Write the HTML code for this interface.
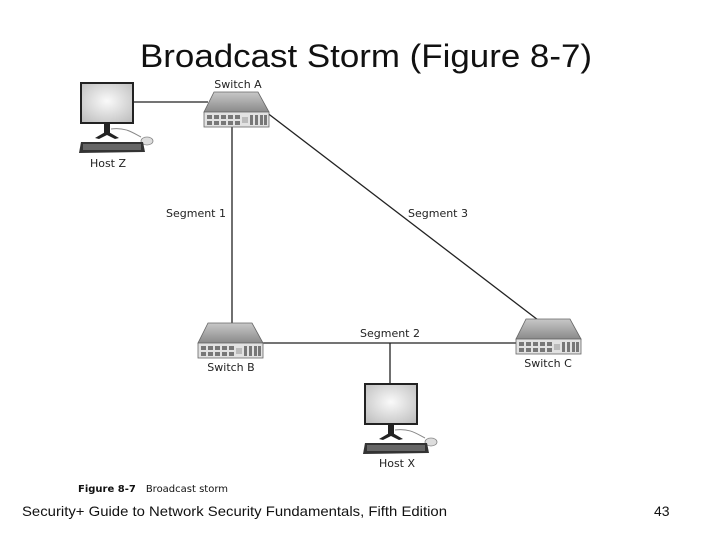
<!DOCTYPE html>
<html><head><style>
html,body{margin:0;padding:0;background:#fff;}
svg{display:block;}
</style></head><body>
<svg width="720" height="540" viewBox="0 0 720 540" xmlns="http://www.w3.org/2000/svg">
<defs>
<linearGradient id="sw" x1="0" y1="0" x2="0" y2="1"><stop offset="0" stop-color="#c8c8c8"/><stop offset="1" stop-color="#8a8a8a"/></linearGradient>
<radialGradient id="scr" cx="0.5" cy="0.45" r="0.7"><stop offset="0" stop-color="#fafafa"/><stop offset="1" stop-color="#bdbdbd"/></radialGradient>
<g id="switch">
<polygon points="10,0 54,0 65,20 0,20" fill="url(#sw)" stroke="#666" stroke-width="0.8"/>
<rect x="0" y="20" width="65" height="15" fill="#e2e2e2" stroke="#666" stroke-width="0.8"/>
<g fill="#777">
<rect x="3" y="23" width="5" height="4"/><rect x="3" y="29" width="5" height="4"/>
<rect x="10" y="23" width="5" height="4"/><rect x="10" y="29" width="5" height="4"/>
<rect x="17" y="23" width="5" height="4"/><rect x="17" y="29" width="5" height="4"/>
<rect x="24" y="23" width="5" height="4"/><rect x="24" y="29" width="5" height="4"/>
<rect x="31" y="23" width="5" height="4"/><rect x="31" y="29" width="5" height="4"/>
<rect x="46" y="23" width="3" height="10"/><rect x="51" y="23" width="3" height="10"/><rect x="56" y="23" width="3" height="10"/><rect x="60" y="23" width="3" height="10"/>
</g>
<rect x="38" y="25" width="6" height="6" fill="#bbb"/>
</g>
<g id="host">
<rect x="0" y="0" width="52" height="40" fill="url(#scr)" stroke="#222" stroke-width="2"/>
<rect x="23" y="41" width="6" height="9" fill="#222"/>
<polygon points="14,55 26,48 38,55 34,56 26,52 18,56" fill="#222"/>
<path d="M30,46 C45,44 52,50 60,54" stroke="#888" fill="none" stroke-width="1"/>
<ellipse cx="66" cy="58" rx="6" ry="4" fill="#ddd" stroke="#888" stroke-width="0.8"/>
<polygon points="0,59 62,59 64,69 -2,70" fill="#333"/>
<rect x="2" y="61" width="58" height="6" fill="#666"/>
</g>
</defs>

<text x="140" y="67" font-family="Liberation Sans, sans-serif" font-size="32" textLength="452" lengthAdjust="spacingAndGlyphs" fill="#111">Broadcast Storm (Figure 8-7)</text>

<g stroke="#222" stroke-width="1.3" fill="none">
<line x1="133" y1="102" x2="208" y2="102"/>
<line x1="232" y1="127" x2="232" y2="323"/>
<line x1="266" y1="112" x2="538" y2="320"/>
<line x1="263" y1="343" x2="517" y2="343"/>
<line x1="390" y1="343" x2="390" y2="384"/>
</g>

<use href="#switch" transform="translate(204,92)"/>
<use href="#switch" transform="translate(198,323)"/>
<use href="#switch" transform="translate(516,319)"/>
<use href="#host" transform="translate(81,83)"/>
<use href="#host" transform="translate(365,384)"/>

<g font-family="DejaVu Sans, Liberation Sans, sans-serif" font-size="11" fill="#222" text-anchor="middle">
<text x="238" y="88">Switch A</text>
<text x="108" y="167">Host Z</text>
<text x="196" y="217">Segment 1</text>
<text x="438" y="217">Segment 3</text>
<text x="390" y="337">Segment 2</text>
<text x="231" y="371">Switch B</text>
<text x="548" y="367">Switch C</text>
<text x="397" y="467">Host X</text>
</g>
<text x="78" y="492" font-family="DejaVu Sans, sans-serif" font-size="10" fill="#111"><tspan font-weight="bold">Figure 8-7</tspan><tspan dx="10">Broadcast storm</tspan></text>

<text x="22" y="516" font-family="Liberation Sans, sans-serif" font-size="14" textLength="425" lengthAdjust="spacingAndGlyphs" fill="#111">Security+ Guide to Network Security Fundamentals, Fifth Edition</text>
<text x="654" y="516" font-family="Liberation Sans, sans-serif" font-size="14" fill="#111">43</text>
</svg>
</body></html>
